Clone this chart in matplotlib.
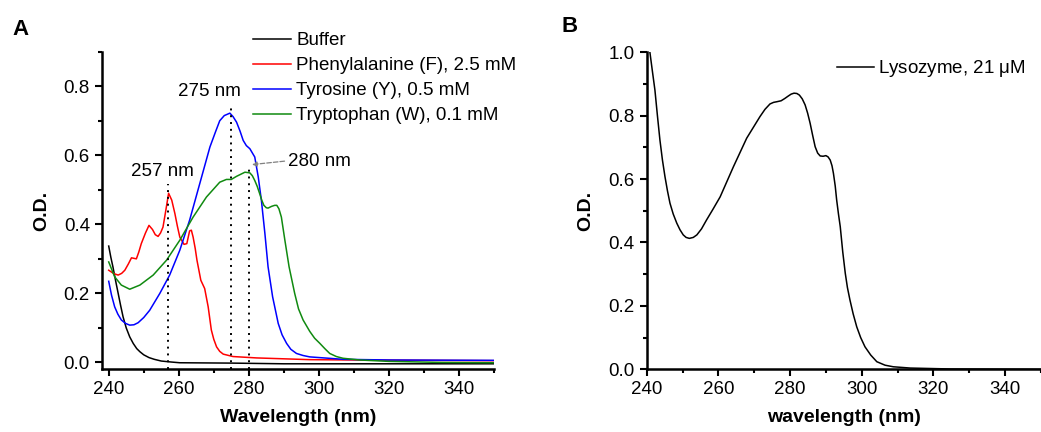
import numpy as np
import matplotlib as mpl
import matplotlib.pyplot as plt
from matplotlib.ticker import MultipleLocator

plt.rcParams['font.family'] = ['Liberation Sans', 'DejaVu Sans']

# panel A: absorbance of the aromatic amino acids
buf_x = [240, 240.6, 241.2, 242, 242.7, 243.4, 244.1, 245, 246, 247, 248, 248.9, 250, 251.5, 253, 255,
         258, 260.3, 275, 290, 320, 350]
buf_y = [0.337, 0.305, 0.277, 0.235, 0.2, 0.165, 0.132, 0.100, 0.074, 0.055, 0.040, 0.031, 0.022, 0.014,
         0.009, 0.004, 0.001, -0.001, -0.002, -0.004, -0.004, -0.004]

phe_x = [240, 241.5, 242.7, 243.7, 244.6, 245.6, 246.5, 247.9, 248.6, 249.3, 250.5, 251.5, 252.5, 253.3,
         254.1, 254.8, 255.5, 256.3, 257.1, 258, 258.9, 259.6, 260.3, 261.5, 262.3, 263.1, 263.6, 264.1,
         264.7, 265.2, 266.3, 267.4, 268.4, 269.3, 270, 270.8, 271.7, 272.7, 275.5, 282.2, 297.4, 310,
         330, 350]
phe_y = [0.267, 0.257, 0.253, 0.258, 0.267, 0.285, 0.303, 0.300, 0.320, 0.344, 0.375, 0.397, 0.385,
         0.370, 0.365, 0.375, 0.392, 0.440, 0.490, 0.470, 0.431, 0.395, 0.363, 0.342, 0.344, 0.381,
         0.383, 0.363, 0.330, 0.296, 0.238, 0.214, 0.161, 0.094, 0.067, 0.045, 0.032, 0.024, 0.017,
         0.013, 0.008, 0.007, 0.006, 0.005]

tyr_x = [240, 240.8, 241.7, 242.6, 243.6, 244.8, 246, 247.2, 248.4, 250, 251.7, 254.6, 257.4, 260.3,
         263.1, 266, 268.9, 270.5, 271.7, 273, 274.6, 275.5, 276.5, 277.5, 278.4, 279.3, 280.3, 281.7,
         282.7, 283.6, 284.6, 285.5, 286.8, 288.4, 289.5, 290.8, 292, 293.6, 295.5, 297.4, 306.9, 320,
         350]
tyr_y = [0.235, 0.195, 0.161, 0.140, 0.123, 0.113, 0.108, 0.109, 0.115, 0.130, 0.151, 0.200, 0.253,
         0.325, 0.412, 0.518, 0.624, 0.668, 0.700, 0.715, 0.722, 0.712, 0.696, 0.670, 0.643, 0.628,
         0.619, 0.595, 0.537, 0.469, 0.373, 0.277, 0.190, 0.113, 0.080, 0.055, 0.038, 0.026, 0.020,
         0.016, 0.009, 0.007, 0.006]

trp_x = [240, 241.7, 243.6, 246, 248.9, 252.7, 256.5, 260.3, 264.1, 267.9, 271.7, 273.6, 275, 276.5,
         278.9, 280.3, 281, 281.7, 282.4, 283.1, 283.7, 284.3, 285, 285.5, 286.5, 287.4, 288, 288.6,
         289.3, 290.3, 291.5, 293.1, 294.2, 295.5, 297.4, 298.8, 300.3, 301.7, 303.1, 305, 306.9,
         311.7, 320, 335, 350]
trp_y = [0.291, 0.248, 0.224, 0.212, 0.224, 0.253, 0.296, 0.354, 0.421, 0.479, 0.522, 0.530, 0.530,
         0.539, 0.551, 0.549, 0.541, 0.527, 0.510, 0.489, 0.470, 0.455, 0.448, 0.447, 0.452, 0.455,
         0.455, 0.445, 0.421, 0.354, 0.277, 0.200, 0.155, 0.123, 0.090, 0.070, 0.055, 0.040, 0.026,
         0.017, 0.012, 0.007, 0.003, 0.0, -0.001]

# panel B: lysozyme spectrum
lys_x = [240.9, 241.6, 242.3, 243, 243.7, 244.4, 245.1, 245.8, 246.5, 247.4, 248.4, 249.3, 250.2, 251,
         251.9, 253, 254, 255.3, 256.7, 258.5, 260.5, 264.2, 267.9, 271.6, 273, 274.4, 275.4, 276.3,
         277.5, 278.5, 279.5, 280.3, 281.1, 281.9, 282.6, 283.4, 284.2, 284.9, 285.6, 286.3, 287,
         287.7, 288.4, 289.2, 290, 290.6, 291.2, 291.7, 292.1, 292.6, 293, 293.5, 294, 294.7, 295.4,
         296, 296.7, 297.6, 298.6, 299.7, 300.9, 302.5, 304.2, 306.5, 308.8, 313.5, 325, 350]
lys_y = [1.0, 0.94, 0.881, 0.80, 0.723, 0.66, 0.608, 0.563, 0.524, 0.490, 0.461, 0.440, 0.424, 0.416,
         0.413, 0.416, 0.424, 0.443, 0.471, 0.505, 0.544, 0.639, 0.729, 0.797, 0.820, 0.837, 0.842,
         0.844, 0.847, 0.854, 0.862, 0.868, 0.871, 0.870, 0.865, 0.853, 0.834, 0.808, 0.776, 0.738,
         0.702, 0.682, 0.673, 0.672, 0.674, 0.670, 0.660, 0.642, 0.618, 0.578, 0.534, 0.490, 0.450,
         0.370, 0.303, 0.258, 0.219, 0.175, 0.134, 0.100, 0.071, 0.045, 0.024, 0.013, 0.008, 0.004,
         0.001, 0.0]

peaks = [257, 275, 280]
peak_tops = [0.516, 0.743, 0.571]

names = ['Buffer', 'Phenylalanine (F), 2.5 mM', 'Tyrosine (Y), 0.5 mM', 'Tryptophan (W), 0.1 mM']
colors = ['black', 'red', 'blue', '#108a10']

fs = 13.5
fig = plt.figure(figsize=(10.41, 4.32), dpi=100)
axA = fig.add_axes([0.0977, 0.1451, 0.3768, 0.7352])
axB = fig.add_axes([0.6212, 0.1451, 0.3788, 0.7339])

series = [(buf_x, buf_y), (phe_x, phe_y), (tyr_x, tyr_y), (trp_x, trp_y)]
lines = []
for (x, y), c, n in zip(series, colors, names):
    l, = axA.plot(x, y, color=c, lw=1.1, label=n)
    lines.append(l)

for p, t in zip(peaks, peak_tops):
    axA.plot([p, p], [-0.02, t], ls=(0, (1, 2.5)), color='black', lw=1.4)

axA.text(255.4, 0.554, '257 nm', ha='center', va='center', fontsize=fs)
axA.text(268.9, 0.785, '275 nm', ha='center', va='center', fontsize=fs)
axA.text(291.2, 0.583, '280 nm', ha='left', va='center', fontsize=fs)
axA.annotate('', xy=(280.9, 0.573), xytext=(290.2, 0.583),
             arrowprops=dict(arrowstyle='-|>', ls='--', color='gray', lw=0.9,
                             mutation_scale=7, shrinkA=0, shrinkB=0))

axA.set_xlim(238, 350)
axA.set_ylim(-0.02, 0.9)
axA.set_xlabel('Wavelength (nm)', fontsize=14, fontweight='bold', labelpad=8)
axA.set_ylabel('O.D.', fontsize=14, fontweight='bold', labelpad=10)
axA.yaxis.set_major_locator(MultipleLocator(0.2))
axA.yaxis.set_minor_locator(MultipleLocator(0.1))

axB.plot(lys_x, lys_y, color='black', lw=1.1, label='Lysozyme, 21 $\\mathregular{\\mu}$M')
axB.set_xlim(240, 350)
axB.set_ylim(0, 1.0)
axB.set_xlabel('wavelength (nm)', fontsize=14, fontweight='bold', labelpad=8)
axB.set_ylabel('O.D.', fontsize=14, fontweight='bold', labelpad=10)
axB.yaxis.set_major_locator(MultipleLocator(0.2))
axB.yaxis.set_minor_locator(MultipleLocator(0.1))

for ax in (axA, axB):
    ax.xaxis.set_major_locator(MultipleLocator(20))
    ax.xaxis.set_minor_locator(MultipleLocator(10))
    for s in ('top', 'right'):
        ax.spines[s].set_visible(False)
    for s in ('left', 'bottom'):
        ax.spines[s].set_linewidth(1.8)
    ax.tick_params(which='major', direction='out', length=5, width=1.5, labelsize=fs, pad=3.5)
    ax.tick_params(which='minor', direction='out', length=3, width=1.5)
    ax.yaxis.set_major_formatter(mpl.ticker.FormatStrFormatter('%.1f'))

axA.legend(handles=lines, loc='upper left', bbox_to_anchor=(0.2433, 0.926),
           bbox_transform=fig.transFigure, frameon=False, fontsize=fs, borderpad=0,
           borderaxespad=0, handlelength=2.0, handletextpad=0.3, labelspacing=0.42)
axB.legend(loc='upper left', bbox_to_anchor=(0.8037, 0.865), bbox_transform=fig.transFigure,
           frameon=False, fontsize=fs, borderpad=0, borderaxespad=0, handlelength=2.0,
           handletextpad=0.2)

fig.text(0.012, 0.955, 'A', fontsize=16, fontweight='bold', va='top')
fig.text(0.539, 0.962, 'B', fontsize=16, fontweight='bold', va='top')

fig.savefig('out.png', dpi=100)
